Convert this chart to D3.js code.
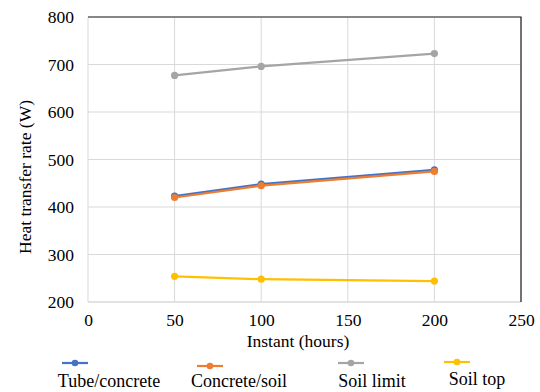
<!DOCTYPE html>
<html>
<head>
<meta charset="utf-8">
<script src="https://cdn.jsdelivr.net/npm/d3@7"></script>
<style>
  body { margin: 0; background: #fff; }
  #chart text { font-family: "Liberation Serif", "Times New Roman", serif; fill: #000; }
</style>
</head>
<body>
<svg id="chart" width="540" height="392"></svg>
<script>
const hours = [50, 100, 200];
const tubeConcrete = [423, 448, 478];
const concreteSoil = [420, 445, 475];
const soilLimit = [677, 696, 723];
const soilTop = [254, 248, 244];
const seriesNames = ['Tube/concrete', 'Concrete/soil', 'Soil limit', 'Soil top'];
const seriesColors = ['#4472c4', '#ed7d31', '#a5a5a5', '#ffc000'];
const xTicks = [0, 50, 100, 150, 200, 250];
const yTicks = [200, 300, 400, 500, 600, 700, 800];

const series = [tubeConcrete, concreteSoil, soilLimit, soilTop].map((vals, i) => ({
  name: seriesNames[i],
  color: seriesColors[i],
  points: vals.map((v, j) => ({x: hours[j], y: v}))
}));

const svg = d3.select('#chart');
const plotL = 88, plotR = 521, plotT = 17, plotB = 302;

const x = d3.scaleLinear().domain([0, 250]).range([plotL, plotR]);
const y = d3.scaleLinear().domain([200, 800]).range([plotB, plotT]);

// grid
svg.append('g').selectAll('line')
  .data(yTicks.slice(1)).enter().append('line')
  .attr('x1', plotL).attr('x2', plotR)
  .attr('y1', d => y(d)).attr('y2', d => y(d))
  .attr('stroke', '#d9d9d9').attr('stroke-width', 1);
svg.append('g').selectAll('line')
  .data(xTicks.slice(1)).enter().append('line')
  .attr('y1', plotT).attr('y2', plotB)
  .attr('x1', d => x(d)).attr('x2', d => x(d))
  .attr('stroke', '#d9d9d9').attr('stroke-width', 1);

// frame: light left/bottom, dark top/right
svg.append('line').attr('x1', plotL).attr('x2', plotL).attr('y1', plotT).attr('y2', plotB)
  .attr('stroke', '#d9d9d9');
svg.append('line').attr('x1', plotL).attr('x2', plotR).attr('y1', plotB).attr('y2', plotB)
  .attr('stroke', '#d9d9d9').attr('stroke-width', 1.5);
svg.append('line').attr('x1', plotL).attr('x2', plotR + 0.5).attr('y1', plotT).attr('y2', plotT)
  .attr('stroke', '#222').attr('stroke-width', 1.2);
svg.append('line').attr('x1', plotR).attr('x2', plotR).attr('y1', plotT).attr('y2', plotB)
  .attr('stroke', '#222').attr('stroke-width', 1.2);

// axes (labels only)
const yAxis = d3.axisLeft(y).tickValues(yTicks).tickSize(0).tickPadding(14);
svg.append('g').attr('transform', `translate(${plotL},0)`).call(yAxis)
  .attr('font-family', null).attr('font-size', null)
  .call(g => g.select('.domain').remove())
  .selectAll('text').style('font-size', '17.5px');

const xAxis = d3.axisBottom(x).tickValues(xTicks).tickSize(0).tickPadding(12);
svg.append('g').attr('transform', `translate(0,${plotB})`).call(xAxis)
  .attr('font-family', null).attr('font-size', null)
  .call(g => g.select('.domain').remove())
  .selectAll('text').style('font-size', '17.5px');

// axis titles
svg.append('text')
  .attr('transform', 'translate(31,177) rotate(-90)')
  .attr('text-anchor', 'middle')
  .style('font-size', '17.5px')
  .text('Heat transfer rate (W)');
svg.append('text')
  .attr('x', 298).attr('y', 347)
  .attr('text-anchor', 'middle')
  .style('font-size', '17.5px')
  .text('Instant (hours)');

// lines
const line = d3.line().x(d => x(d.x)).y(d => y(d.y));
const order = [2, 0, 1, 3];
order.forEach(i => {
  const s = series[i];
  svg.append('path').datum(s.points)
    .attr('d', line).attr('fill', 'none')
    .attr('stroke', s.color).attr('stroke-width', 2.2);
  svg.append('g').selectAll('circle')
    .data(s.points).enter().append('circle')
    .attr('cx', d => x(d.x)).attr('cy', d => y(d.y))
    .attr('r', 3.6).attr('fill', s.color);
});

// legend
const legendX = [75, 210, 351, 457];
const legendMarkY = [363, 366, 363, 362];
const legendTextX = [109, 239, 372, 477];
const legendTextY = [387, 387, 387, 385];
series.forEach((s, i) => {
  const g = svg.append('g');
  g.append('line')
    .attr('x1', legendX[i] - 13).attr('x2', legendX[i] + 13)
    .attr('y1', legendMarkY[i]).attr('y2', legendMarkY[i])
    .attr('stroke', s.color).attr('stroke-width', 2.2);
  g.append('circle').attr('cx', legendX[i]).attr('cy', legendMarkY[i])
    .attr('r', 3.3).attr('fill', s.color);
  g.append('text')
    .attr('x', legendTextX[i]).attr('y', legendTextY[i])
    .attr('text-anchor', 'middle')
    .style('font-size', '18px')
    .text(s.name);
});
</script>
</body>
</html>
